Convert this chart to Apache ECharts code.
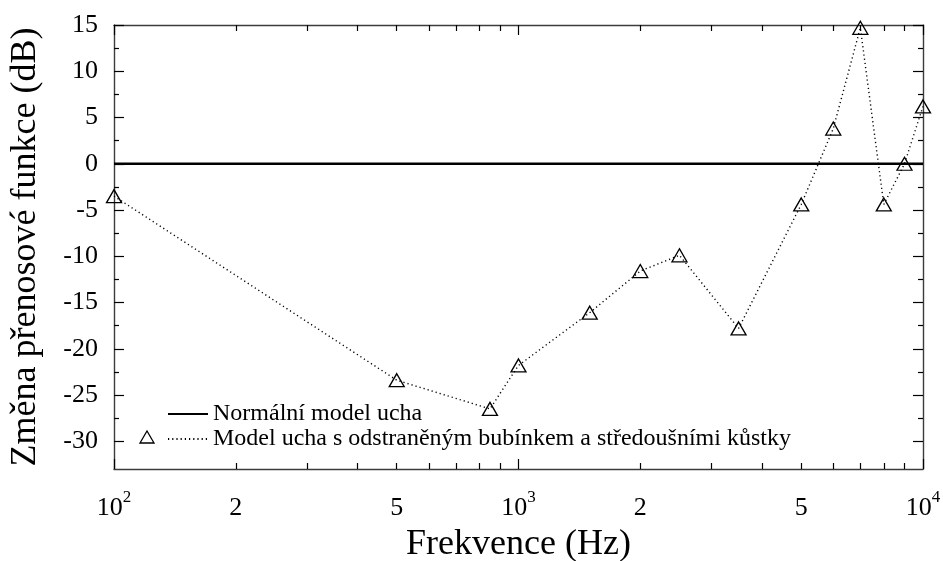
<!DOCTYPE html>
<html>
<head>
<meta charset="utf-8">
<script src="https://cdn.jsdelivr.net/npm/echarts@6/dist/echarts.min.js"></script>
<style>
  html, body { margin: 0; padding: 0; background: #fff; }
  #chart { width: 943px; height: 561px; }
</style>
</head>
<body>
<div id="chart"></div>
<script>
// Frequencies (Hz) and change of the transfer function (dB)
const frequencies = [100, 500, 850, 1000, 1500, 2000, 2500, 3500, 5000, 6000, 7000, 8000, 9000, 10000];
const changeDb = [-3.5, -23.4, -26.5, -21.8, -16.1, -11.6, -9.9, -17.8, -4.4, 3.8, 14.7, -4.4, 0.0, 6.2];
const normalFreq = [100, 10000];
const normalDb = [0, 0];

const seriesNames = ['Normální model ucha', 'Model ucha s odstraněným bubínkem a středoušními kůstky'];

// Axis ticks and labels
const xLabelValues = [100, 200, 500, 1000, 2000, 5000, 10000];
const xMajorTicks = [100, 1000, 10000];
const xMinorTicks = [200, 300, 400, 500, 600, 700, 800, 900, 2000, 3000, 4000, 5000, 6000, 7000, 8000, 9000];
const yLabelValues = [-30, -25, -20, -15, -10, -5, 0, 5, 10, 15];
const yMinorTicks = [-27.5, -22.5, -17.5, -12.5, -7.5, -2.5, 2.5, 7.5, 12.5];

const FONT = "'Liberation Serif', 'DejaVu Serif', serif";
const FRAME = '#3c3c3c';

function xLabel(v) {
  const e = Math.log10(v);
  const er = Math.round(e);
  if (Math.abs(e - er) < 1e-6) return '{b|10}{s|' + er + '}';
  return '{b|' + Math.round(v / Math.pow(10, Math.floor(e + 1e-9))) + '}';
}

function xAxisDef(pos, ticks, len, withLabels, withLine) {
  return {
    type: 'log', logBase: 10, min: 100, max: 10000, position: pos, gridIndex: 0,
    name: withLabels ? 'Frekvence (Hz)' : '',
    nameLocation: 'middle', nameGap: 58,
    nameTextStyle: { fontFamily: FONT, fontSize: 36, color: '#000' },
    axisLine: { show: withLine, onZero: false, lineStyle: { color: FRAME, width: 1.4 } },
    axisTick: { show: true, inside: true, length: len, customValues: ticks, lineStyle: { color: '#000', width: 1.2 } },
    minorTick: { show: false },
    splitLine: { show: false },
    axisLabel: withLabels ? {
      show: true, margin: 20, customValues: xLabelValues, formatter: xLabel,
      rich: {
        b: { fontFamily: FONT, fontSize: 26, color: '#000', lineHeight: 32, verticalAlign: 'bottom' },
        s: { fontFamily: FONT, fontSize: 17, color: '#000', lineHeight: 32, verticalAlign: 'top' }
      }
    } : { show: false }
  };
}

function yAxisDef(pos, ticks, len, withLabels, withLine) {
  return {
    type: 'value', min: -33, max: 15, position: pos, gridIndex: 0,
    name: withLabels ? 'Změna přenosové funkce (dB)' : '',
    nameLocation: 'middle', nameGap: 70,
    nameTextStyle: { fontFamily: FONT, fontSize: 36, color: '#000' },
    axisLine: { show: withLine, onZero: false, lineStyle: { color: FRAME, width: 1.4 } },
    axisTick: { show: true, inside: true, length: len, customValues: ticks, lineStyle: { color: '#000', width: 1.2 } },
    splitLine: { show: false },
    axisLabel: withLabels ? {
      show: true, margin: 16, customValues: yLabelValues,
      fontFamily: FONT, fontSize: 26, color: '#000'
    } : { show: false }
  };
}

const chart = echarts.init(document.getElementById('chart'), null, { renderer: 'canvas' });

chart.setOption({
  animation: false,
  backgroundColor: '#fff',
  textStyle: { fontFamily: FONT },
  grid: { left: 114, right: 20, top: 25, bottom: 92, containLabel: false, outerBoundsMode: 'none' },
  xAxis: [
    xAxisDef('bottom', xMajorTicks, 10, true, true),
    xAxisDef('bottom', xMinorTicks, 6, false, false),
    xAxisDef('top', xMajorTicks, 10, false, true),
    xAxisDef('top', xMinorTicks, 6, false, false)
  ],
  yAxis: [
    yAxisDef('left', yLabelValues, 10, true, true),
    yAxisDef('left', yMinorTicks, 5, false, false),
    yAxisDef('right', yLabelValues, 10, false, true),
    yAxisDef('right', yMinorTicks, 5, false, false)
  ],
  legend: {
    orient: 'vertical', left: 162, top: 397,
    itemWidth: 40, itemHeight: 12, itemGap: 1,
    textStyle: { fontFamily: FONT, fontSize: 24, color: '#000', lineHeight: 24 },
    data: [
      { name: seriesNames[0], itemStyle: { opacity: 0 } },
      { name: seriesNames[1], itemStyle: { opacity: 0 } }
    ]
  },
  graphic: [{
    type: 'polygon',
    shape: { points: [[140, 443], [154, 443], [147, 431]] },
    style: { fill: 'none', stroke: '#000', lineWidth: 1.3 }
  }],
  series: [
    {
      name: seriesNames[0], type: 'line', xAxisIndex: 0, yAxisIndex: 0,
      data: normalFreq.map((f, i) => [f, normalDb[i]]),
      symbol: 'none',
      lineStyle: { color: '#000', width: 2.6 },
      itemStyle: { color: '#000' },
      z: 3
    },
    {
      name: seriesNames[1], type: 'line', xAxisIndex: 0, yAxisIndex: 0,
      data: frequencies.map((f, i) => [f, changeDb[i]]),
      symbol: 'triangle', symbolSize: [15, 13],
      lineStyle: { color: '#000', width: 1.4, type: [1.2, 3] },
      itemStyle: { color: 'rgba(0,0,0,0)', borderColor: '#000', borderWidth: 1.3 },
      z: 4
    }
  ]
});
</script>
</body>
</html>
